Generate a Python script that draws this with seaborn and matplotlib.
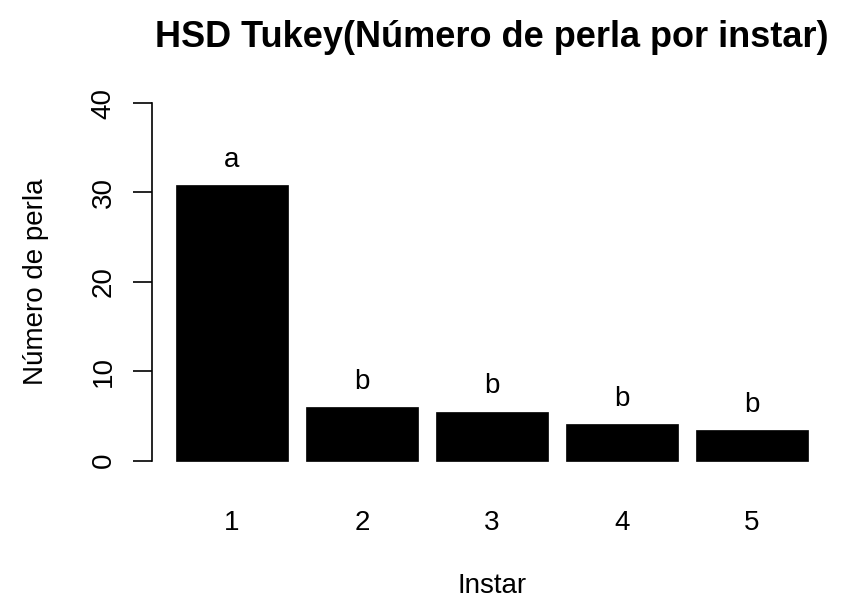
import matplotlib
matplotlib.use("Agg")
import matplotlib.pyplot as plt
import seaborn as sns
import pandas as pd

instar = ["1", "2", "3", "4", "5"]
perlas = [30.8, 6.0, 5.5, 4.1, 3.4]
letras = ["a", "b", "b", "b", "b"]
yticks = [0, 10, 20, 30, 40]

sns.set_style("white")
plt.rcParams["font.family"] = ["Liberation Sans", "DejaVu Sans"]
plt.rcParams["text.color"] = "black"
plt.rcParams["axes.labelcolor"] = "black"
plt.rcParams["xtick.color"] = "black"
plt.rcParams["ytick.color"] = "black"

df = pd.DataFrame({"Instar": instar, "Perla": perlas})

fig = plt.figure(figsize=(8.48, 6.04), dpi=100)
ax = fig.add_axes([152/848, (604-475)/604, 680/848, (475-88.7)/604])

sns.barplot(data=df, x="Instar", y="Perla", color="black", width=0.86,
            saturation=1, edgecolor="black", linewidth=0.5, ax=ax)

for i, (v, l) in enumerate(zip(perlas, letras)):
    ax.text(i, v + 2.8, l, ha="center", va="center", fontsize=20, color="black")

ax.set_xlim(-0.615, 4.615)
ax.set_ylim(-1.6, 41.6)
ax.set_yticks(yticks)
ax.set_yticklabels([str(t) for t in yticks], rotation=90, va="center", fontsize=20)
ax.tick_params(axis="y", length=13.5, width=1.2, colors="black", pad=12, direction="out", left=True)
ax.tick_params(axis="x", length=0, pad=25, labelsize=20, colors="black")

for s in ["top", "right", "bottom"]:
    ax.spines[s].set_visible(False)
ax.spines["left"].set_bounds(0, 40)
ax.spines["left"].set_color("black")
ax.spines["left"].set_linewidth(1.2)

ax.set_xlabel("Instar", fontsize=20, labelpad=27, color="black")
ax.set_ylabel("Número de perla", fontsize=20, labelpad=30, color="black")
ax.set_title("HSD Tukey(Número de perla por instar)", fontsize=26, fontweight="bold", pad=30, color="black")

fig.savefig("out.png", dpi=100)
